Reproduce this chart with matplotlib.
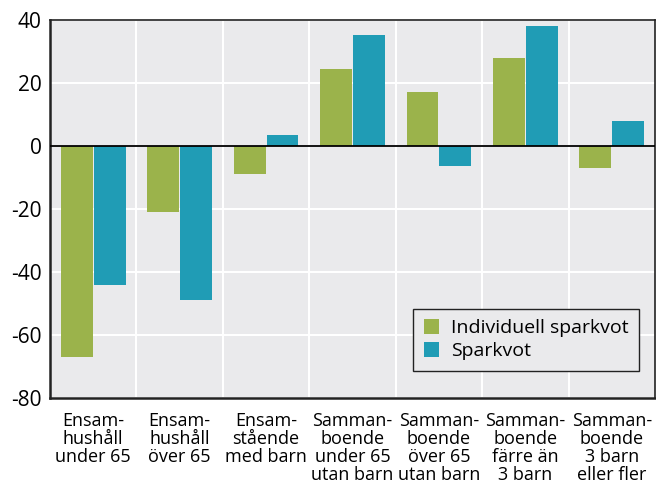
import numpy as np
import matplotlib.pyplot as plt

# Data
categories = ['Ensam-\nhushåll\nunder 65', 'Ensam-\nhushåll\növer 65', 'Ensam-\nstående\nmed barn',
              'Samman-\nboende\nunder 65\nutan barn', 'Samman-\nboende\növer 65\nutan barn',
              'Samman-\nboende\nfärre än\n3 barn', 'Samman-\nboende\n3 barn\neller fler']
individuell = [-67, -21, -8.8, 24.4, 17.1, 27.9, -7.0]
sparkvot = [-44, -49, 3.5, 35.2, -6.3, 38.1, 7.9]

plt.rcParams['font.family'] = ['Open Sans', 'DejaVu Sans']
plt.rcParams['axes.unicode_minus'] = False

fig = plt.figure(figsize=(6.56, 4.84), dpi=100)
ax = fig.add_axes([50 / 656, 1 - 398 / 484, 605 / 656, 378 / 484])
ax.set_facecolor('#EAEAEC')

x = np.arange(len(categories))
w = 0.37
ax.bar(x - 0.19, individuell, w, color='#9BB34B', label='Individuell sparkvot', zorder=3)
ax.bar(x + 0.19, sparkvot, w, color='#209CB5', label='Sparkvot', zorder=3)

ax.set_xlim(-0.5, len(categories) - 0.5)
ax.set_ylim(-80, 40)
ax.set_yticks(range(-80, 41, 20))
ax.tick_params(axis='y', length=0, labelsize=15, pad=6)
ax.tick_params(axis='x', length=0, labelsize=13, pad=10)
ax.set_xticks(x)
ax.set_xticklabels(categories, linespacing=1.0, va='top')

for v in np.arange(0.5, len(categories) - 1, 1):
    ax.axvline(v, color='white', lw=1.5, zorder=1)
ax.grid(axis='y', color='white', lw=1.5, zorder=1)
ax.set_axisbelow(True)
ax.axhline(0, color='black', lw=1.3, zorder=4)

for s in ax.spines.values():
    s.set_color('#222222')
    s.set_linewidth(1.2)
ax.spines['left'].set_linewidth(1.8)
ax.spines['bottom'].set_linewidth(1.8)

leg = ax.legend(loc='lower right', bbox_to_anchor=(0.974, 0.071), borderaxespad=0, fontsize=14,
                frameon=True, fancybox=False, handlelength=0.8, handleheight=0.8, handletextpad=0.6,
                borderpad=0.55, labelspacing=0.25)
leg.get_frame().set_edgecolor('#222222')
leg.get_frame().set_linewidth(1.0)
leg.get_frame().set_facecolor('#EAEAEC')
leg.get_frame().set_alpha(1)

fig.savefig('out.png', dpi=100)
